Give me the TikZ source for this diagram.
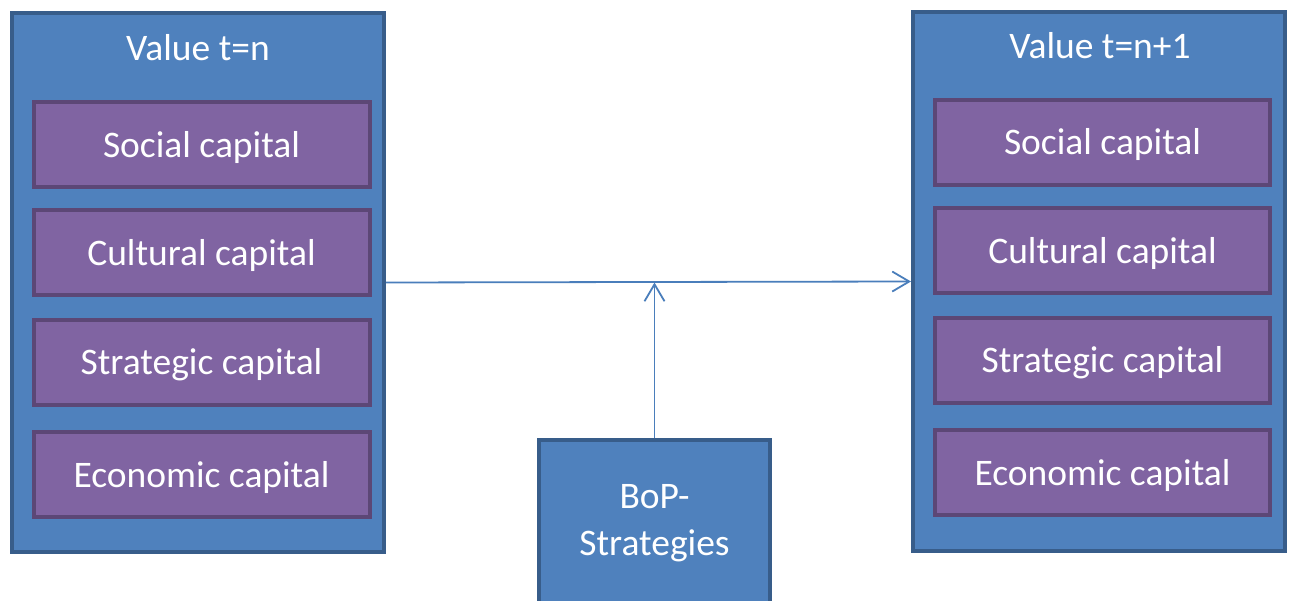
\documentclass[tikz,border=0pt]{standalone}
\usepackage{fontspec}
\setmainfont{Carlito}
\usetikzlibrary{arrows.meta}
\definecolor{boxblue}{HTML}{4F81BD}
\definecolor{boxblueline}{HTML}{385D8A}
\definecolor{boxpurple}{HTML}{8064A2}
\definecolor{boxpurpleline}{HTML}{5C4776}
\definecolor{arrowblue}{HTML}{4A7EBB}
\tikzset{
  outerbox/.style={draw=boxblueline, fill=boxblue, line width=4pt, rectangle, inner sep=0pt},
  capbox/.style={draw=boxpurpleline, fill=boxpurple, line width=4pt, rectangle, inner sep=0pt,
     minimum width=336pt, minimum height=85pt, text=white, font=\fontsize{37.5}{44}\selectfont,
     text height=26pt, text depth=1pt},
  titletext/.style={text=white, font=\fontsize{37.5}{44}\selectfont, inner sep=0pt,
     text height=26pt, text depth=1pt},
  conn/.style={draw=arrowblue, line width=1.8pt, -{Straight Barb[length=17pt,width=20pt,line width=1.8pt]}}
}
\begin{document}
\begin{tikzpicture}[x=1pt,y=-1pt]
\useasboundingbox (0,0) rectangle (1289,601);
% left outer box
\node[outerbox, minimum width=372.5pt, minimum height=539pt] (left) at (197.75,282.5) {};
\node[titletext] (lt) at (198,48) {Value t=n};
\node[capbox] (ls) at (201.5,144.75) {Social capital};
\node[capbox] (lc) at (201.5,253) {Cultural capital};
\node[capbox] (lst) at (201.5,362) {Strategic capital};
\node[capbox] (le) at (201.5,474.5) {Economic capital};
% right outer box
\node[outerbox, minimum width=372pt, minimum height=539pt] (right) at (1099,281.5) {};
\node[titletext] (rt) at (1100,46) {Value t=n+1};
\node[capbox, minimum width=335pt] (rs) at (1102.5,142.5) {Social capital};
\node[capbox, minimum width=335pt] (rc) at (1102.5,251) {Cultural capital};
\node[capbox, minimum width=335pt] (rst) at (1102.5,360) {Strategic capital};
\node[capbox, minimum width=335pt] (re) at (1102.5,472.5) {Economic capital};
% BoP box
\node[outerbox, minimum width=231pt, minimum height=166pt, text=white, align=center,
      font=\fontsize{37.5}{47}\selectfont] (bop) at (654.5,523) {BoP-\\Strategies};
% connectors
\coordinate (meet) at (bop.north |- left.east);
\draw[conn] (left.east) -- (right.west);
\draw[conn] (bop.north) -- (meet);
\end{tikzpicture}
\end{document}
